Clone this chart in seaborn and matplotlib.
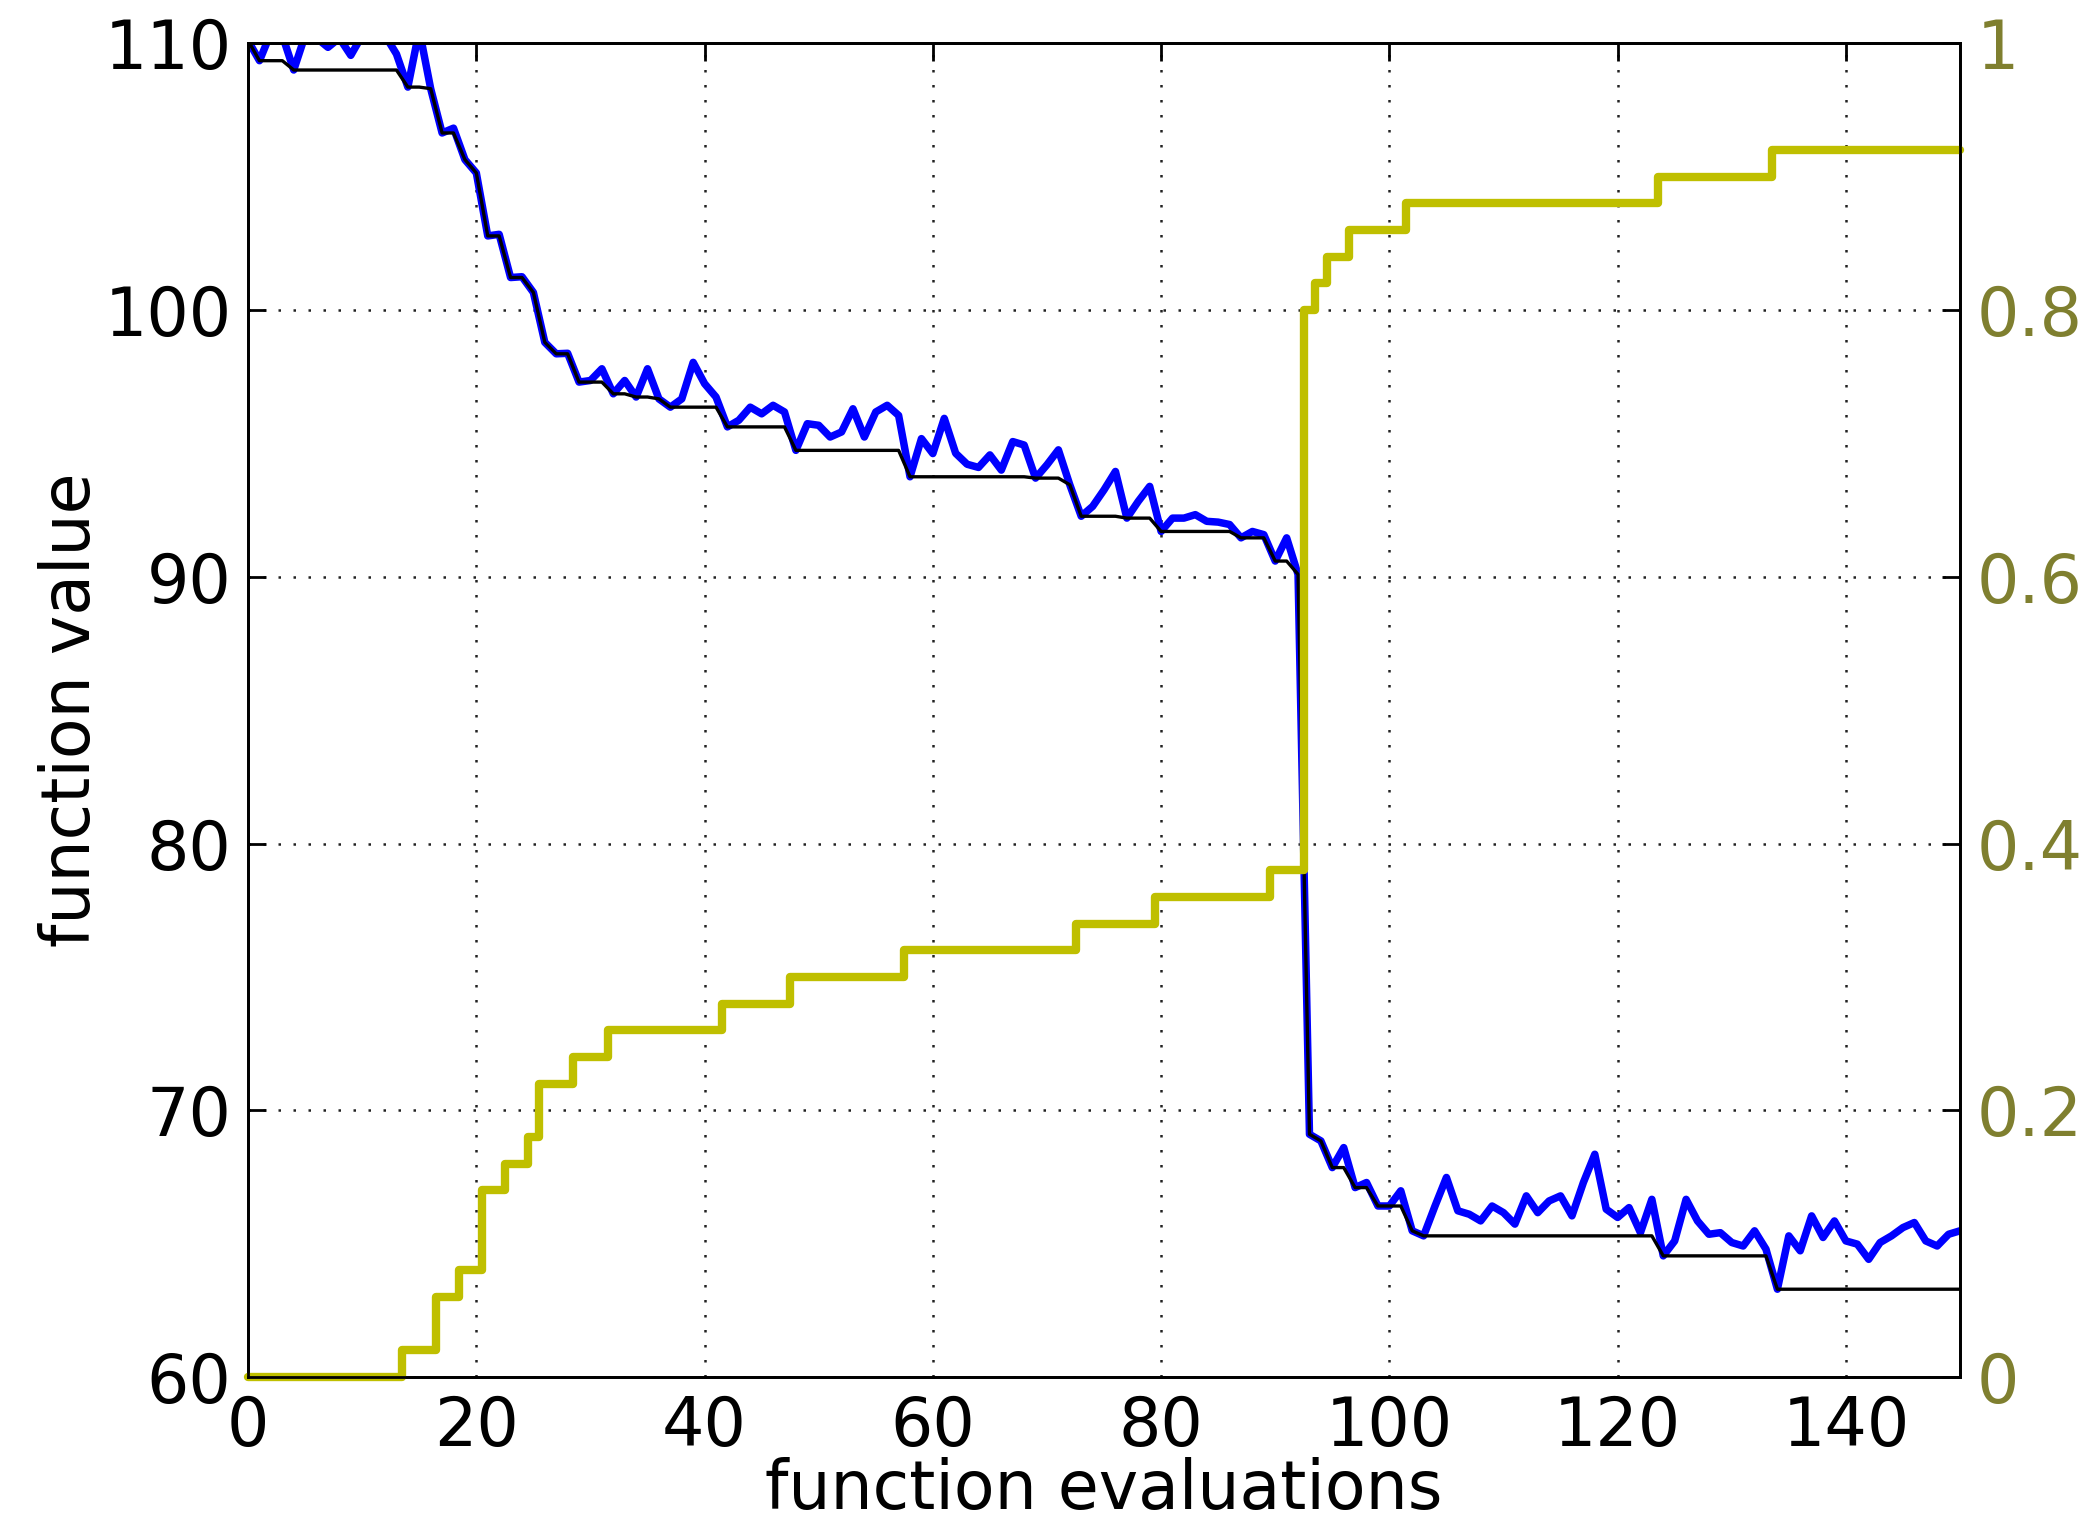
import numpy as np
import pandas as pd
import matplotlib
matplotlib.use("Agg")
import matplotlib.pyplot as plt
import seaborn as sns

# ---------------- data ----------------
evaluations = list(range(0, 151))
function_values = [
    110.1, 109.35, 110.4, 110.3, 109.0, 110.3, 110.2, 109.85, 110.2, 109.55,
    110.3, 110.4, 110.3, 109.6, 108.36, 110.5, 108.3, 106.64, 106.82, 105.64,
    105.14, 102.78, 102.84, 101.22, 101.25, 100.66, 98.79, 98.36, 98.38, 97.30,
    97.36, 97.8, 96.86, 97.36, 96.74, 97.8, 96.67, 96.36, 96.67, 98.04,
    97.24, 96.74, 95.62, 95.87, 96.36, 96.11, 96.43, 96.18, 94.74, 95.74,
    95.68, 95.24, 95.43, 96.3, 95.24, 96.18, 96.43, 96.05, 93.75, 95.18,
    94.62, 95.94, 94.63, 94.22, 94.1, 94.57, 94.0, 95.07, 94.94, 93.7,
    94.2, 94.76, 93.45, 92.27, 92.64, 93.26, 93.95, 92.2, 92.83, 93.39,
    91.7, 92.2, 92.2, 92.33, 92.08, 92.05, 91.96, 91.46, 91.7, 91.58,
    90.59, 91.46, 90.09, 69.1, 68.85, 67.85, 68.6, 67.1, 67.29, 66.41,
    66.41, 66.98, 65.48, 65.29, 66.41, 67.48, 66.23, 66.1, 65.85, 66.41,
    66.16, 65.73, 66.79, 66.16, 66.6, 66.79, 66.04, 67.29, 68.35, 66.29,
    65.98, 66.35, 65.41, 66.66, 64.54, 65.1, 66.66, 65.85, 65.35, 65.41,
    65.04, 64.91, 65.48, 64.79, 63.29, 65.29, 64.73, 66.04, 65.23, 65.85,
    65.1, 64.98, 64.41, 65.04, 65.29, 65.6, 65.79, 65.1, 64.91, 65.35,
    65.48,
]
# right-axis step series (break points, value holds until next break)
fraction_x = [0, 13.5, 16.5, 18.5, 20.5, 22.5, 24.5, 25.5, 28.5, 31.5, 41.5,
              47.5, 57.5, 72.5, 79.5, 89.5, 92.5, 93.5, 94.5, 96.5, 101.5,
              123.5, 133.5, 150]
fraction_v = [0.0, 0.02, 0.06, 0.08, 0.14, 0.16, 0.18, 0.22, 0.24, 0.26, 0.28,
              0.30, 0.32, 0.34, 0.36, 0.38, 0.80, 0.82, 0.84, 0.86, 0.88,
              0.90, 0.92, 0.92]

x_ticks = [0, 20, 40, 60, 80, 100, 120, 140]
left_ticks = [60, 70, 80, 90, 100, 110]
right_ticks = [0.0, 0.2, 0.4, 0.6, 0.8, 1.0]
right_ticklabels = ["0", "0.2", "0.4", "0.6", "0.8", "1"]
x_label = "function evaluations"
y_label = "function value"

# ---------------- style ----------------
sns.set_theme(style="white", rc={
    "axes.edgecolor": "black",
    "axes.linewidth": 1.0,
    "xtick.color": "black",
    "ytick.color": "black",
    "text.color": "black",
    "axes.labelcolor": "black",
})
plt.rcParams["font.family"] = ["DejaVu Sans"]

df = pd.DataFrame({"evaluations": evaluations, "value": function_values})
df["best"] = df["value"].cummin()
fdf = pd.DataFrame({"x": fraction_x, "frac": fraction_v})

fig = plt.figure(figsize=(10.45, 7.605), dpi=200)
ax = fig.add_axes([0.1187, 0.0947, 0.8191, 0.8768])

sns.lineplot(data=df, x="evaluations", y="value", ax=ax, color="#0000ff",
             lw=2.7, estimator=None, sort=False)
sns.lineplot(data=df, x="evaluations", y="best", ax=ax, color="black",
             lw=1.2, estimator=None, sort=False)

ax.set_xlim(0, 150)
ax.set_ylim(60, 110)
ax.set_xticks(x_ticks)
ax.set_yticks(left_ticks)
ax.grid(True, color="#222222", linestyle=(0, (1, 5)), linewidth=0.9)
ax.tick_params(direction="in", length=6.5, width=1.0, top=True, right=False,
               labelsize=24, pad=6)
ax.set_xlabel(x_label, fontsize=24, labelpad=-1)
ax.set_ylabel(y_label, fontsize=24, labelpad=0)

ax2 = ax.twinx()
sns.lineplot(data=fdf, x="x", y="frac", ax=ax2, color="#bfbf00", lw=3,
             drawstyle="steps-post", estimator=None, sort=False, clip_on=False)
ax2.set_ylim(0, 1)
ax2.set_yticks(right_ticks)
ax2.set_yticklabels(right_ticklabels)
ax2.tick_params(direction="in", length=6.5, width=1.0, labelsize=24, pad=6,
                labelcolor="#7f7f2f")
ax2.set_ylabel("")
ax2.grid(False)
for s in ax2.spines.values():
    s.set_linewidth(1.0)
    s.set_color("black")

fig.savefig("out.png", dpi=200, facecolor="white")
